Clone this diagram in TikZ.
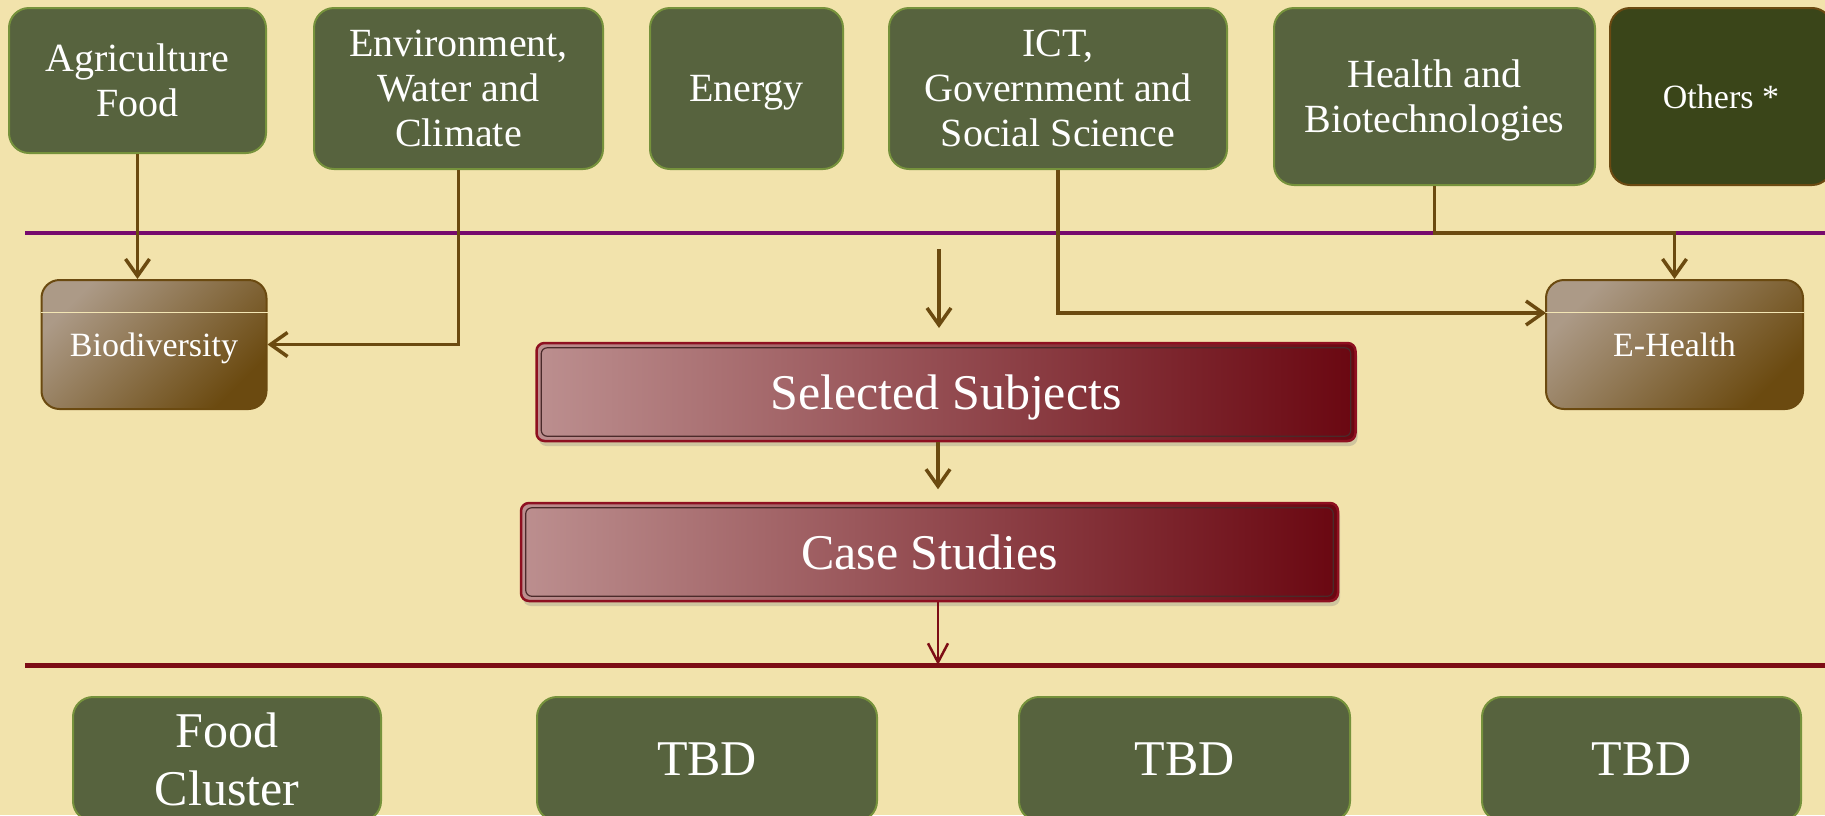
\documentclass[tikz,border=0pt]{standalone}
\usepackage{fontspec}
\setmainfont{Liberation Serif}
\usetikzlibrary{arrows.meta,shadows,calc}
\definecolor{bg}{HTML}{F2E3AC}
\definecolor{gfill}{HTML}{57633E}
\definecolor{gdraw}{HTML}{76923C}
\definecolor{ofill}{HTML}{3A4519}
\definecolor{odraw}{HTML}{6B4A12}
\definecolor{brn}{HTML}{6B4A10}
\definecolor{brlight}{HTML}{AC9A87}
\definecolor{purp}{HTML}{770A6D}
\definecolor{dred}{HTML}{7D0D15}
\definecolor{sleft}{HTML}{BC8F8F}
\definecolor{sright}{HTML}{6A0711}
\definecolor{sdraw}{HTML}{8E1020}
\definecolor{inset}{HTML}{4A2A2A}
\begin{document}
\begin{tikzpicture}[x=1pt,y=-1pt,
  topbox/.style={rounded corners=20pt, fill=gfill, draw=gdraw, line width=2pt,
    text=white, align=center, inner sep=0pt, text depth=0pt, font=\fontsize{40}{45}\selectfont},
  otherbox/.style={topbox, fill=ofill, draw=odraw, font=\fontsize{34}{40}\selectfont},
  subbox/.style={rounded corners=18pt, top color=brlight, bottom color=brn, shading angle=45,
    draw=brn, line width=2pt, text=white, align=center, inner sep=0pt, text depth=0pt,
    minimum width=225pt, minimum height=129pt, font=\fontsize{34}{40}\selectfont},
  redbox/.style={rounded corners=8pt, left color=sleft, right color=sright, draw=sdraw,
    line width=2.5pt, text=white, inner sep=0pt, minimum height=98pt, text depth=0pt,
    drop shadow={opacity=0.3, shadow xshift=2pt, shadow yshift=-5pt},
    font=\fontsize{50}{58}\selectfont},
  insetline/.style={draw=inset, line width=1.2pt, rounded corners=6pt},
  botbox/.style={topbox, minimum height=124pt, font=\fontsize{50}{58}\selectfont},
  conn/.style={draw=brn, line width=3.5pt, -{Straight Barb[length=17pt,width=24pt,line width=3.5pt]}},
  redconn/.style={draw=dred, line width=2.5pt, -{Straight Barb[length=19pt,width=20pt,line width=2.5pt]}},
  bioline/.style={draw=bg!90!white, line width=1pt}
]
\fill[bg] (0,0) rectangle (1825,815);
\useasboundingbox (0,0) rectangle (1825,815);
\clip (0,0) rectangle (1825,815);

% separator lines
\coordinate (purpL) at (25,233);
\coordinate (purpR) at (1825,233);
\coordinate (redL) at (25,665);
\coordinate (redR) at (1825,665);
\draw[purp, line width=4pt] (purpL) -- (purpR);

% top row
\node[topbox, minimum width=257pt, minimum height=145pt] (agri) at (137.5,80.5) {Agriculture\\Food};
\node[topbox, minimum width=289pt, minimum height=161pt] (env) at (458.5,88.5) {Environment,\\Water and\\Climate};
\node[topbox, minimum width=193pt, minimum height=161pt] (energy) at (746.5,88.5) {Energy};
\node[topbox, minimum width=338pt, minimum height=161pt] (ict) at (1058,88.5) {ICT,\\Government and\\Social Science};
\node[topbox, minimum width=321pt, minimum height=177pt] (health) at (1434.5,96.5) {Health and\\Biotechnologies};
\node[otherbox, minimum width=222pt, minimum height=177pt] (others) at (1721,96.5) {Others *};

% middle row
\node[subbox] (bio) at (154,344.5) {Biodiversity};
\draw[bioline] (bio.west |- 0,312) -- (bio.east |- 0,312);
\node[subbox, minimum width=257pt] (ehealth) at (1674.5,344.5) {E-Health};
\draw[bioline] (ehealth.west |- 0,312) -- (ehealth.east |- 0,312);

\node[redbox, minimum width=819pt] (sel) at (946,392) {Selected Subjects};
\draw[insetline] ($(sel.north west)+(6,6)$) rectangle ($(sel.south east)+(-6,-6)$);
\node[redbox, minimum width=817pt] (case) at (929.5,552) {Case Studies};
\draw[insetline] ($(case.north west)+(6,6)$) rectangle ($(case.south east)+(-6,-6)$);

\draw[dred, line width=5pt] (redL) -- (redR);

% bottom row
\node[botbox, minimum width=308pt] (food) at (227,759) {Food\\Cluster};
\node[botbox, minimum width=340pt] (tbda) at (707,759) {TBD};
\node[botbox, minimum width=331pt] (tbdb) at (1184.5,759) {TBD};
\node[botbox, minimum width=319pt] (tbdc) at (1641.5,759) {TBD};

% connectors
\coordinate (ehin) at (1546,313);
\coordinate (hjoin) at (1434.5,233);
\coordinate (inTop) at (939,249);
\coordinate (inEnd) at (939,328);
\coordinate (midX) at (938,0);

\draw[conn] (agri.south) -- (agri.south |- bio.north);
\draw[conn] (env.south) |- (bio.east);
\draw[conn] (ict.south) |- (ehin);
\draw[conn] (health.south) -- (hjoin) -| (ehealth.north);
\draw[conn] (inTop) -- (inEnd);
\draw[conn] (sel.south -| midX) -- ++(0,47);
\draw[redconn] (case.south -| midX) -- (redL -| midX);
\end{tikzpicture}
\end{document}
